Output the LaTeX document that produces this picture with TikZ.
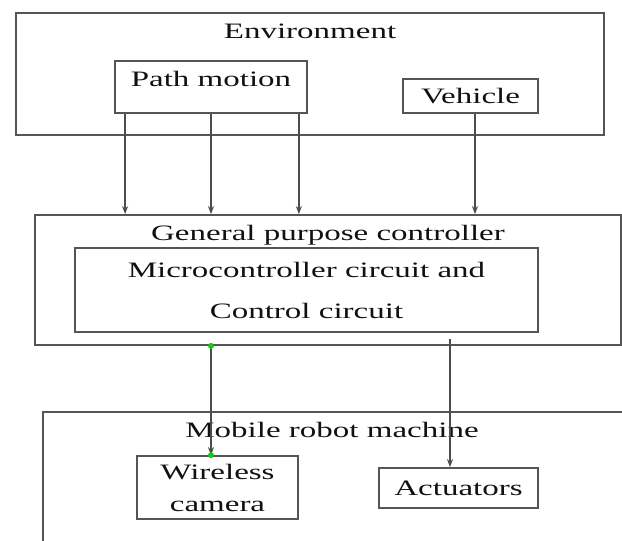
\documentclass[tikz,border=0pt]{standalone}
\usepackage{fontspec}
\setmainfont[FakeStretch=1.5]{Liberation Serif}
\usetikzlibrary{arrows.meta,positioning,calc}
\definecolor{ln}{HTML}{555555}
\definecolor{tx}{HTML}{111111}
\definecolor{gd}{HTML}{11CC11}
\tikzset{
  box/.style={draw=ln, line width=1.8pt, inner sep=0pt, text=tx, align=center},
  ttl/.style={text=tx, inner sep=0pt, anchor=base},
  arr/.style={draw=black!70, line width=1.4pt, -{Stealth[length=8pt,width=6pt]}},
  gdot/.style={circle, fill=gd, inner sep=0pt, minimum size=6pt},
}
\begin{document}
\begin{tikzpicture}[x=1pt, y=-1pt, font=\fontsize{22}{30}\selectfont]
  \clip (0,0) rectangle (622,541);
  % outer blocks
  \node[box, minimum width=588pt, minimum height=122pt] (env) at (310,74) {};
  \node[ttl] (envt) at (310,38) {Environment};
  \node[box, minimum width=586pt, minimum height=130pt] (gpc) at (328,280) {};
  \node[ttl] (gpct) at (328,240) {General purpose controller};
  \node[box, minimum width=640pt, minimum height=180pt] (mob) at (363,502) {};
  \node[ttl] (mobt) at (332,437) {Mobile robot machine};
  % inner blocks
  \node[box, minimum width=192pt, minimum height=52pt, text depth=16pt] (path) at (211,87) {Path motion};
  \node[box, minimum width=135pt, minimum height=34pt] (veh) at (470.5,96) {Vehicle};
  \node[box, minimum width=463pt, minimum height=84pt] (mcu) at (306.5,290)
    {Microcontroller circuit and\\[11pt] Control circuit};
  \node[box, minimum width=161pt, minimum height=63pt] (cam) at (217.5,487.5)
    {Wireless\\[2pt] camera};
  \node[box, minimum width=159pt, minimum height=40pt] (act) at (458.5,488) {Actuators};
  % inputs from the environment
  \draw[arr] ([xshift=11pt]path.south west) -- ([xshift=11pt]path.south west |- gpc.north);
  \draw[arr] (path.south) -- (path.south |- gpc.north);
  \draw[arr] ([xshift=-9pt]path.south east) -- ([xshift=-9pt]path.south east |- gpc.north);
  \draw[arr] ([xshift=4.5pt]veh.south) -- ([xshift=4.5pt]veh.south |- gpc.north);
  % outputs to the robot
  \coordinate (tap) at (450,339);
  \draw[arr] (gpc.south -| path.south) -- (cam.north -| path.south);
  \draw[arr] (tap) -- (tap |- act.north);
  \node[gdot] (g1) at (gpc.south -| path.south) {};
  \node[gdot] (g2) at (cam.north -| path.south) {};
\end{tikzpicture}
\end{document}
